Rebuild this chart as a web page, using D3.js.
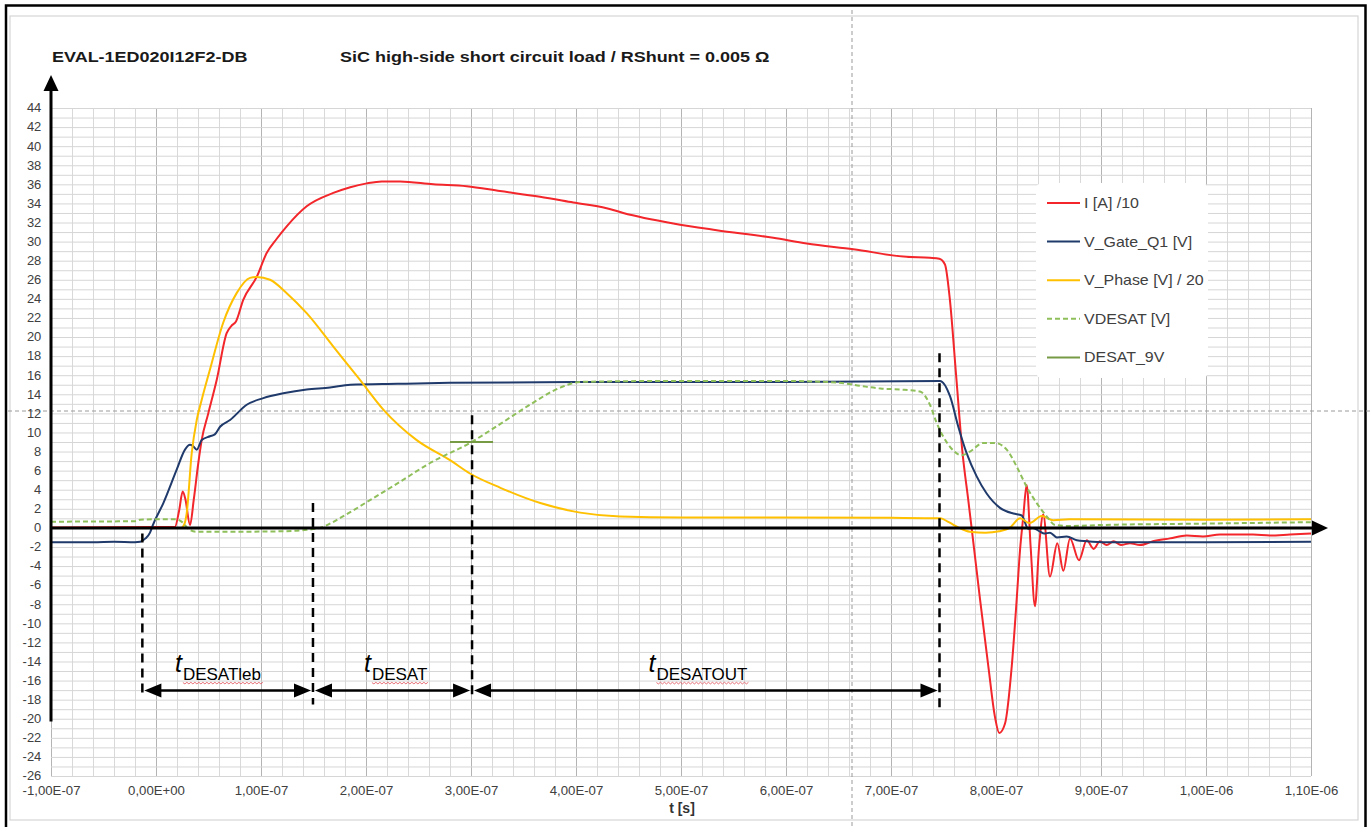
<!DOCTYPE html>
<html>
<head>
<meta charset="utf-8">
<script src="https://cdn.jsdelivr.net/npm/d3@7"></script>
<style>
  body { margin: 0; background: #fff; }
  text { font-family: "Liberation Sans", Arial, sans-serif; }
</style>
</head>
<body>
<div id="chart"></div>
<script>
// time in ns, values as plotted
var xTicks = [-100, 0, 100, 200, 300, 400, 500, 600, 700, 800, 900, 1000, 1100];
var xTickLabels = ["-1,00E-07", "0,00E+00", "1,00E-07", "2,00E-07", "3,00E-07", "4,00E-07", "5,00E-07",
  "6,00E-07", "7,00E-07", "8,00E-07", "9,00E-07", "1,00E-06", "1,10E-06"];
var yTicks = d3.range(-26, 45, 2);

var seriesNames = ["I [A] /10", "V_Gate_Q1 [V]", "V_Phase [V] / 20", "VDESAT [V]", "DESAT_9V"];
var seriesColors = ["#f2262b", "#1f3a6b", "#ffc000", "#8fbf5a", "#779a45"];

var currentI = [[-100, 0.05], [0, 0.1], [18, 0.1], [22, 1.8], [25.4, 3.8], [28, 3.0], [32.4, 0.3], [36, 3],
  [40.3, 6.8], [43.5, 9.2], [49.8, 12], [57.8, 15.5], [67.3, 20.4], [72, 21.2], [76, 21.6], [83.1, 23.9],
  [95.9, 26.3], [105.4, 28.8], [115, 30.3], [124.5, 31.6], [143.5, 33.7], [168.9, 35.1], [185, 35.7],
  [200.7, 36.1], [215, 36.3], [232.4, 36.3], [264.1, 36.0], [295.9, 35.8], [327.6, 35.3], [365.7, 34.7],
  [397.4, 34.1], [429.2, 33.5], [445, 33.0], [492.7, 31.9], [534, 31.2], [587.9, 30.4], [619.7, 29.8],
  [664.1, 29.2], [714.9, 28.4], [737.1, 28.3], [746, 28.2], [751.4, 27.6], [756, 24], [762, 16], [768, 8],
  [773.6, 2.9], [777, -0.2], [784.8, -7.5], [792.7, -14.5], [799, -19.8], [803.1, -21.5], [808.6, -20.5],
  [815, -14.5], [819.7, -7.5], [822.9, -2.3], [826, 1.2], [829.2, 4.5], [833, -2], [837.1, -8.2], [841, -2],
  [845, 1.4], [851.4, -5.1], [858.4, -1.6], [864.1, -4.5], [870.5, -1.1], [879, -3.4], [886.4, -1.3],
  [893, -2.2], [899, -1.4], [905.4, -1.8], [912, -1.4], [919, -1.8], [927.6, -1.6], [937, -1.8],
  [949.5, -1.4], [965.7, -1.1], [981.6, -0.8], [997.1, -0.9], [1013.3, -0.7], [1044.8, -0.7], [1061, -0.8],
  [1080, -0.7], [1100, -0.6]];

var vGate = [[-100, -1.5], [-60, -1.5], [-40, -1.45], [-20, -1.5], [-15, -1.45], [-10, -1.1], [-5.7, -0.5],
  [-3, 0.3], [7, 2.6], [19.7, 6.1], [27.6, 8.2], [32.4, 8.7], [35, 8.6], [38.8, 8.2], [43.5, 9.2],
  [51.4, 9.6], [56, 9.8], [61, 10.6], [70.5, 11.3], [86.4, 12.9], [102.2, 13.6], [121.2, 14.1],
  [143.5, 14.5], [165.7, 14.7], [185, 15.0], [230, 15.1], [280, 15.2], [400, 15.3], [600, 15.3],
  [746.7, 15.4], [756.2, 13.8], [764.1, 10.6], [772.1, 7.8], [781.6, 5.4], [791.1, 3.6], [803.8, 2.1],
  [816.5, 1.5], [824.5, 1.3], [830.8, -0.1], [835, 0], [841.9, -0.4], [846, -0.6], [851.4, -0.5],
  [858, -1.0], [867.3, -0.9], [877, -1.3], [886.4, -1.4], [905.4, -1.5], [1000, -1.5], [1100, -1.45]];

var vPhase = [[-100, 0], [24, 0], [27, 0.4], [29.2, 1.5], [34, 7.8], [38.8, 11.3], [43.5, 13.4], [51.4, 16.6],
  [64, 21.5], [76.8, 24.6], [89.5, 26.2], [95.9, 26.3], [108.6, 26.0], [124.5, 24.6], [143.5, 22.5],
  [168.9, 19.0], [194.3, 15.5], [216.5, 12.4], [248.3, 9.2], [280, 7.1], [299, 5.7], [328, 4.2], [366, 2.6],
  [404, 1.6], [442, 1.2], [500, 1.1], [600, 1.1], [700, 1.05], [747, 1.0], [755, 0.6], [765, 0],
  [775, -0.4], [790, -0.5], [803, -0.35], [813, 0], [823, 1.0], [832, 0.5], [843.5, 1.25], [854.6, 0.8],
  [870, 0.9], [1000, 0.85], [1100, 0.9]];

var vDesat = [[-100, 0.65], [-20, 0.7], [-15, 0.85], [0, 0.9], [19.7, 0.9], [25, 0.6], [32, -0.2],
  [38.8, -0.4], [80, -0.4], [121, -0.35], [143.5, -0.2], [156, 0], [178, 1.2], [200.7, 2.7], [232, 4.8],
  [261, 6.8], [299, 8.9], [328, 10.9], [356, 12.9], [385, 14.7], [404, 15.3], [500, 15.4], [600, 15.4],
  [651, 15.2], [670, 14.9], [690, 14.6], [708.6, 14.5], [727.6, 14.3], [737.1, 12.9], [743.5, 11.0],
  [756.2, 8.5], [767.3, 7.6], [775.2, 8.0], [787.9, 8.9], [799, 8.9], [810.2, 8.2], [821.2, 6.1],
  [829.2, 4.3], [838.8, 2.6], [848.3, 1.2], [856.2, 0.3], [870, 0.2], [900, 0.3], [1000, 0.45], [1100, 0.6]];

var desat9V = [[280, 9], [321, 9]];

// annotation: dashed markers (t, top value, bottom value) and arrow spans
var markerT = [-13, 149.5, 301, 746.2];
var markerTop = [-0.6, 2.6, 11.8, 18.3];
var markerBottom = [-17.6, -18.5, -17.6, -19.1];
var spanStart = [-13, 149.5, 301];
var spanEnd = [149.5, 301, 746.2];
var spanSub = ["DESATleb", "DESAT", "DESATOUT"];
var spanLabelT = [18, 198, 469];
var arrowV = -17.05;

var svgWidth = 1370, svgHeight = 827;

var svg = d3.select("#chart").append("svg")
  .attr("width", svgWidth)
  .attr("height", svgHeight);

var x = d3.scaleLinear().domain([-100, 1100]).range([51, 1311]);
var y = d3.scaleLinear().domain([-26, 44]).range([776, 108]);

// frame
svg.append("rect").attr("x", 10).attr("y", 16).attr("width", 1348).attr("height", 804)
  .attr("fill", "none").attr("stroke", "#d6d6d6").attr("stroke-width", 1.2);
svg.append("path").attr("d", "M6,827 V5.5 H1365.5 V827")
  .attr("fill", "none").attr("stroke", "#000").attr("stroke-width", 2.5);

// grid
svg.append("g")
  .attr("transform", "translate(0," + y(-26) + ")")
  .call(d3.axisBottom(x).tickValues(d3.range(-100, 1101, 20)).tickSize(-(y(-26) - y(44))).tickFormat(""))
  .call(function(g) {
    g.select(".domain").remove();
    g.selectAll("line").attr("stroke", function(d) { return d % 100 === 0 ? "#b4b4b4" : "#d9d9d9"; });
  });
svg.append("g")
  .attr("transform", "translate(" + x(-100) + ",0)")
  .call(d3.axisLeft(y).tickValues(d3.range(-26, 45, 1)).tickSize(-(x(1100) - x(-100))).tickFormat(""))
  .call(function(g) {
    g.select(".domain").remove();
    g.selectAll("line").attr("stroke", "#d6d6d6");
  });

// screenshot crosshair
svg.append("line").attr("x1", 852).attr("x2", 852).attr("y1", 10).attr("y2", 827)
  .attr("stroke", "#9a9a9a").attr("stroke-width", 1).attr("stroke-dasharray", "4,3");
svg.append("line").attr("x1", 8).attr("x2", 1370).attr("y1", 411).attr("y2", 411)
  .attr("stroke", "#9a9a9a").attr("stroke-width", 1).attr("stroke-dasharray", "4,3");

// tick labels
svg.append("g")
  .attr("transform", "translate(0," + y(-26) + ")")
  .call(d3.axisBottom(x).tickValues(xTicks).tickSize(0).tickPadding(10)
    .tickFormat(function(d, i) { return xTickLabels[i]; }))
  .call(function(g) {
    g.select(".domain").remove();
    g.selectAll("text").attr("fill", "#404040").attr("font-size", "12px")
      .attr("transform", "scale(1.1,1)");
  });
svg.append("g")
  .attr("transform", "translate(" + x(-100) + ",0)")
  .call(d3.axisLeft(y).tickValues(yTicks).tickSize(0).tickPadding(9)
    .tickFormat(function(d) { return String(d); }))
  .call(function(g) {
    g.select(".domain").remove();
    g.selectAll("text").attr("fill", "#404040").attr("font-size", "12px")
      .attr("transform", "scale(1.08,1)");
  });

svg.append("text").attr("x", 682).attr("y", 813).attr("text-anchor", "middle")
  .attr("font-size", "14px").attr("font-weight", "bold").attr("fill", "#333").text("t [s]");

// titles
function stretchedText(px, py, str, size, sx, weight, fill) {
  return svg.append("text")
    .attr("transform", "translate(" + px + "," + py + ") scale(" + sx + ",1)")
    .attr("font-size", size + "px").attr("font-weight", weight).attr("fill", fill).text(str);
}
stretchedText(52, 62, "EVAL-1ED020I12F2-DB", 15, 1.2, "bold", "#1a1a1a");
stretchedText(340, 62, "SiC high-side short circuit load / RShunt = 0.005 \u03a9", 15, 1.2, "bold", "#1a1a1a");

// series
var line = d3.line()
  .x(function(d) { return x(d[0]); })
  .y(function(d) { return y(d[1]); })
  .curve(d3.curveMonotoneX);

var allSeries = [currentI, vGate, vPhase, vDesat, desat9V];
var dashes = [null, null, null, "5,3", null];

allSeries.forEach(function(s, i) {
  svg.append("path")
    .datum(s)
    .attr("d", line)
    .attr("fill", "none")
    .attr("stroke", seriesColors[i])
    .attr("stroke-width", 2)
    .attr("stroke-linejoin", "round")
    .attr("stroke-dasharray", dashes[i]);
});

// legend
svg.append("rect").attr("x", 1036).attr("y", 183).attr("width", 172).attr("height", 195)
  .attr("rx", 6).attr("fill", "#fff");
seriesNames.forEach(function(name, i) {
  var ly = 203 + i * 38.6;
  svg.append("line").attr("x1", 1047).attr("x2", 1080).attr("y1", ly).attr("y2", ly)
    .attr("stroke", seriesColors[i]).attr("stroke-width", 2).attr("stroke-dasharray", dashes[i]);
  stretchedText(1084, ly + 5, name, 14, 1.14, "normal", "#404040");
});

// axes arrows
var arrowLayer = svg.append("g");
arrowLayer.append("line").attr("x1", x(-100)).attr("x2", 1314).attr("y1", y(0)).attr("y2", y(0))
  .attr("stroke", "#000").attr("stroke-width", 3);
arrowLayer.append("path").attr("d", "M1312," + (y(0) - 7.5) + " L1328," + y(0) + " L1312," + (y(0) + 7.5) + "Z")
  .attr("fill", "#000");
arrowLayer.append("line").attr("x1", x(-100)).attr("x2", x(-100)).attr("y1", y(-20.3)).attr("y2", 88)
  .attr("stroke", "#000").attr("stroke-width", 3);
arrowLayer.append("path").attr("d", "M" + (x(-100) - 7.5) + ",91 L" + x(-100) + ",75 L" + (x(-100) + 7.5) + ",91Z")
  .attr("fill", "#000");

// annotation
var ann = svg.append("g");
markerT.forEach(function(t, i) {
  ann.append("line").attr("x1", x(t)).attr("x2", x(t)).attr("y1", y(markerTop[i])).attr("y2", y(markerBottom[i]))
    .attr("stroke", "#000").attr("stroke-width", 2.5).attr("stroke-dasharray", "9,6");
});

function arrowHead(px, py, dir) {
  ann.append("path")
    .attr("d", "M" + px + "," + py + " L" + (px + dir * 17) + "," + (py - 7) + " L" + (px + dir * 17) + "," + (py + 7) + "Z")
    .attr("fill", "#000");
}

spanStart.forEach(function(t0, i) {
  var x0 = x(t0) + 2, x1 = x(spanEnd[i]) - 2, yy = y(arrowV);
  ann.append("line").attr("x1", x0 + 8).attr("x2", x1 - 8).attr("y1", yy).attr("y2", yy)
    .attr("stroke", "#000").attr("stroke-width", 2.5);
  arrowHead(x0, yy, 1);
  arrowHead(x1, yy, -1);

  var lx = x(spanLabelT[i]);
  var ty = y(arrowV) - 19;
  ann.append("text").attr("x", lx).attr("y", ty).attr("font-size", "25px").attr("font-style", "italic")
    .attr("fill", "#000").text("t");
  var sub = ann.append("text").attr("x", lx + 8).attr("y", ty + 8).attr("font-size", "17px")
    .attr("fill", "#000").text(spanSub[i]);
  var w = sub.node().getComputedTextLength();
  var p = "M" + (lx + 8) + "," + (ty + 11);
  for (var k = 0; k < w; k += 2) {
    p += " L" + (lx + 10 + k) + "," + (ty + 11 + (k / 2 % 2 === 0 ? 1.3 : -0.3));
  }
  ann.append("path").attr("d", p).attr("fill", "none").attr("stroke", "#e0505a")
    .attr("stroke-width", 1).attr("opacity", 0.8);
});
</script>
</body>
</html>
